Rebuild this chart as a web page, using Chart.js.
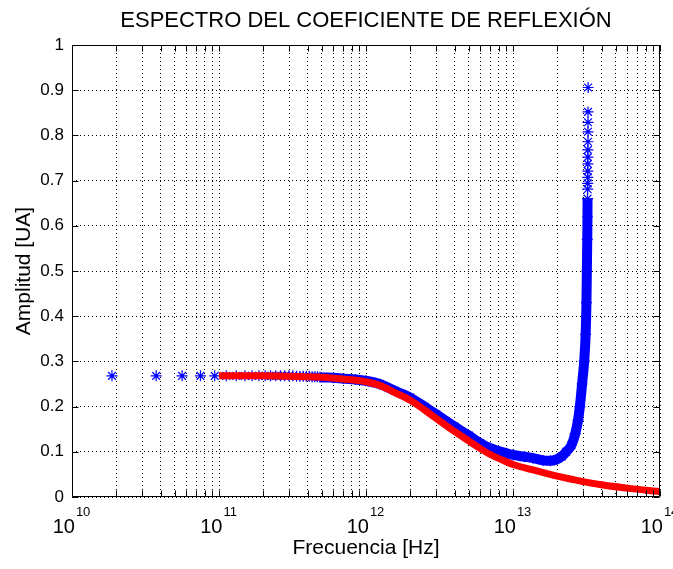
<!DOCTYPE html>
<html>
<head>
<meta charset="utf-8">
<script src="https://cdn.jsdelivr.net/npm/chart.js@4/dist/chart.umd.min.js"></script>
<style>
html, body { margin: 0; padding: 0; background: #fff; }
</style>
</head>
<body>
<canvas id="chart" width="673" height="569"></canvas>
<script>
// valores: frecuencia [Hz] y amplitud [UA]
const blueFreq = [
  1.87e10, 3.74e10, 5.61e10, 7.48e10, 9.35e10, 1.12e11, 1.31e11, 1.50e11, 1.68e11, 1.87e11,
  2.06e11, 2.24e11, 2.43e11, 2.62e11, 2.80e11, 2.99e11, 3.18e11, 3.37e11, 3.55e11, 3.74e11,
  3.93e11, 4.11e11, 4.30e11, 4.49e11, 4.67e11, 4.86e11, 6.0e11, 7.0e11, 8.5e11, 1.0e12,
  1.24e12, 1.57e12, 2.0e12, 2.5e12, 3.0e12, 4.0e12, 5.0e12, 6.0e12, 7.0e12, 9.0e12,
  1.0e13, 1.2e13, 1.37e13, 1.6e13, 1.8e13, 2.0e13, 2.15e13, 2.3e13, 2.5e13, 2.65e13,
  2.77e13, 2.85e13, 2.95e13, 3.05e13, 3.12e13, 3.16e13, 3.18e13, 3.20e13, 3.21e13, 3.215e13,
  3.220e13, 3.222e13, 3.224e13, 3.226e13, 3.228e13, 3.230e13, 3.232e13, 3.234e13,
  3.236e13, 3.238e13, 3.240e13, 3.242e13
];
const blueAmp = [
  0.268, 0.268, 0.268, 0.268, 0.268, 0.268, 0.268, 0.268, 0.268, 0.268,
  0.268, 0.268, 0.268, 0.268, 0.268, 0.268, 0.268, 0.267, 0.267, 0.267,
  0.267, 0.267, 0.266, 0.266, 0.266, 0.265, 0.264, 0.262, 0.260, 0.257,
  0.250, 0.235, 0.220, 0.200, 0.183, 0.156, 0.136, 0.119, 0.108, 0.097,
  0.093, 0.089, 0.086, 0.081, 0.080, 0.084, 0.090, 0.100, 0.115, 0.140,
  0.170, 0.200, 0.250, 0.300, 0.360, 0.430, 0.500, 0.570, 0.620, 0.660,
  0.681, 0.694, 0.707, 0.721, 0.737, 0.752, 0.768, 0.786,
  0.808, 0.829, 0.852, 0.906
];
const redFreq = [
  1e11, 2e11, 3e11, 5e11, 7e11, 1e12, 1.24e12, 1.57e12, 2e12, 3e12, 4e12,
  5e12, 6e12, 7e12, 9e12, 1e13, 1.37e13, 2e13, 3e13, 4e13, 6.6e13, 1e14
];
const redAmp = [
  0.268, 0.268, 0.267, 0.265, 0.261, 0.255, 0.247, 0.231, 0.214, 0.174, 0.145,
  0.124, 0.107, 0.094, 0.078, 0.072, 0.060, 0.046, 0.034, 0.027, 0.018, 0.012
];
const xDecades = [10, 11, 12, 13, 14];
const xMinor = [1, 2, 3, 4, 5, 6, 7, 8, 9];
const yTicks = [0, 0.1, 0.2, 0.3, 0.4, 0.5, 0.6, 0.7, 0.8, 0.9, 1];

const FONT = '"Liberation Sans", Arial, Helvetica, sans-serif';

// lista de marcas del eje log (1..9 x 10^n)
var xTickVals = [];
for (var d = 0; d < xDecades.length - 1; d++) {
  for (var m = 0; m < xMinor.length; m++) {
    xTickVals.push(xMinor[m] * Math.pow(10, xDecades[d]));
  }
}
xTickVals.push(Math.pow(10, xDecades[xDecades.length - 1]));

function toPoints(xs, ys) {
  return xs.map(function (x, i) { return {x: x, y: ys[i]}; });
}

// marco estilo matlab, marcas hacia dentro y etiquetas 10^n
const matlabFrame = {
  id: 'matlabFrame',
  afterDraw: function (chart) {
    const ctx = chart.ctx;
    const a = chart.chartArea;
    const xs = chart.scales.x, ys = chart.scales.y;
    const L = Math.round(a.left) + 0.5, R = Math.round(a.right) - 0.5;
    const T = Math.round(a.top) + 0.5, B = Math.round(a.bottom) - 0.5;
    ctx.save();
    ctx.strokeStyle = '#000';
    ctx.lineWidth = 1;
    ctx.beginPath();
    ctx.rect(L, T, R - L, B - T);
    // marcas eje y
    yTicks.forEach(function (v) {
      const py = Math.round(ys.getPixelForValue(v)) + 0.5;
      ctx.moveTo(L, py); ctx.lineTo(L + 6, py);
      ctx.moveTo(R, py); ctx.lineTo(R - 6, py);
    });
    // marcas eje x
    xTickVals.forEach(function (v) {
      const px = Math.round(xs.getPixelForValue(v)) + 0.5;
      ctx.moveTo(px, B); ctx.lineTo(px, B - 6);
      ctx.moveTo(px, T); ctx.lineTo(px, T + 6);
    });
    ctx.stroke();

    // etiquetas con exponente
    ctx.fillStyle = '#000';
    ctx.textBaseline = 'alphabetic';
    ctx.textAlign = 'left';
    xDecades.forEach(function (e) {
      const px = xs.getPixelForValue(Math.pow(10, e));
      ctx.font = '20px ' + FONT;
      const wb = ctx.measureText('10').width;
      ctx.font = '13px ' + FONT;
      const we = ctx.measureText(String(e)).width;
      const x0 = px - (wb + we) / 2 - 1;
      ctx.font = '20px ' + FONT;
      ctx.fillText('10', x0, a.bottom + 36);
      ctx.font = '13px ' + FONT;
      ctx.fillText(String(e), x0 + wb + 1, a.bottom + 19);
    });
    ctx.restore();
  }
};

const ctx = document.getElementById('chart').getContext('2d');
new Chart(ctx, {
  type: 'scatter',
  data: {
    datasets: [
      {
        label: 'rojo',
        data: toPoints(redFreq, redAmp),
        showLine: true,
        borderColor: 'rgb(255,0,0)',
        borderWidth: 7,
        pointRadius: 0,
        cubicInterpolationMode: 'monotone',
        order: 0
      },
      {
        label: 'azul',
        data: toPoints(blueFreq, blueAmp),
        showLine: true,
        borderColor: 'rgb(0,0,255)',
        borderWidth: 10,
        cubicInterpolationMode: 'monotone',
        pointStyle: 'star',
        pointRadius: 5.5,
        pointBorderWidth: 1.2,
        pointBorderColor: 'rgb(0,0,255)',
        pointBackgroundColor: 'rgb(0,0,255)',
        segment: {
          borderColor: function (c) {
            if (c.p0.parsed.x < 4.8e11 || c.p1.parsed.y > 0.665) return 'rgba(0,0,0,0)';
            return 'rgb(0,0,255)';
          }
        },
        order: 1
      }
    ]
  },
  options: {
    responsive: false,
    animation: false,
    devicePixelRatio: 1,
    layout: { padding: { left: 0, right: 13, top: 0, bottom: 0 } },
    plugins: {
      legend: { display: false },
      tooltip: { enabled: false },
      title: {
        display: true,
        text: 'ESPECTRO DEL COEFICIENTE DE REFLEXIÓN',
        color: '#000',
        fullSize: false,
        font: { family: FONT, size: 22, weight: 'normal' },
        padding: { top: 8, bottom: 10.6 }
      }
    },
    scales: {
      x: {
        type: 'logarithmic',
        min: 1e10,
        max: 1e14,
        afterBuildTicks: function (scale) {
          scale.ticks = xTickVals.map(function (v) { return {value: v}; });
        },
        afterFit: function (scale) { scale.height = 72; },
        ticks: { display: false },
        grid: { color: '#000', lineWidth: 1, drawTicks: false },
        border: { display: false, dash: [1, 3] },
        title: {
          display: true,
          text: 'Frecuencia [Hz]',
          color: '#000',
          font: { family: FONT, size: 21 },
          padding: { top: 0, bottom: 8 }
        }
      },
      y: {
        type: 'linear',
        min: 0,
        max: 1,
        afterBuildTicks: function (scale) {
          scale.ticks = yTicks.map(function (v) { return {value: v}; });
        },
        afterFit: function (scale) { scale.width = 72; },
        ticks: {
          color: '#000',
          padding: 8,
          font: { family: FONT, size: 17 },
          callback: function (v) { return String(+(+v).toFixed(1)); }
        },
        grid: { color: '#000', lineWidth: 1, drawTicks: false },
        border: { display: false, dash: [1, 3] },
        title: {
          display: true,
          text: 'Amplitud [UA]',
          color: '#000',
          font: { family: FONT, size: 21 },
          padding: { top: 12, bottom: 0 }
        }
      }
    }
  },
  plugins: [matlabFrame]
});
</script>
</body>
</html>
